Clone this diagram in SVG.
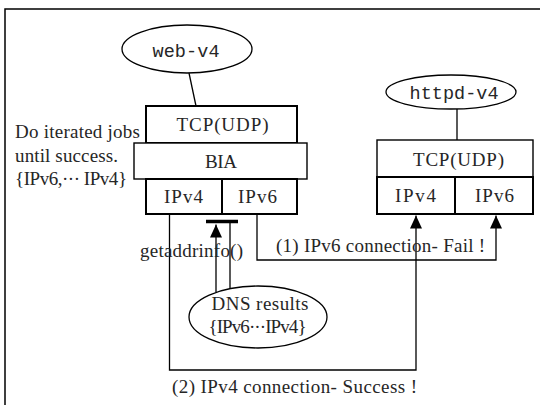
<svg xmlns="http://www.w3.org/2000/svg" width="540" height="405" viewBox="0 0 540 405">
<style>
text{font-family:"Liberation Serif","Times New Roman",serif;font-size:19px;fill:#262626}
text.m{font-family:"Liberation Mono","Courier New",monospace;font-size:18.5px}
.c{text-anchor:middle}
.box{fill:#fff;stroke:#000;stroke-width:2}
.thin{fill:#fff;stroke:#000;stroke-width:1.4}
.ln{fill:none;stroke:#000;stroke-width:1.3}
.el{fill:#fff;stroke:#000;stroke-width:1.3}
</style>
<defs>
<marker id="ah" viewBox="0 0 13 12" refX="13" refY="6" markerWidth="13" markerHeight="12" markerUnits="userSpaceOnUse" orient="auto">
<path d="M13 6 L0 0 L0 12 Z" fill="#000"/>
</marker>
</defs>
<rect width="540" height="405" fill="#fff"/>
<path d="M5 405 V9 H540" fill="none" stroke="#000" stroke-width="1.5"/>

<g id="connectors">
<line class="ln" x1="189" y1="73" x2="196" y2="106"/>
<line class="ln" x1="457" y1="109" x2="457" y2="140"/>
<path class="ln" d="M257 214 V260 H496 V215.5" marker-end="url(#ah)"/>
<path class="ln" d="M169.5 214 V370 H416 V215.5" marker-end="url(#ah)"/>
<path class="ln" d="M216 292 V224.5" marker-end="url(#ah)"/>
<line class="ln" x1="230" y1="223" x2="230" y2="289"/>
<line x1="206" y1="221.5" x2="238" y2="221.5" stroke="#000" stroke-width="3.5"/>
</g>

<g id="web-v4">
<ellipse class="el" cx="187" cy="49" rx="65" ry="24"/>
<text class="c m" x="186" y="57" textLength="67" lengthAdjust="spacing">web-v4</text>
</g>

<g id="httpd-v4">
<ellipse class="el" cx="451" cy="92" rx="65" ry="17"/>
<text class="c m" x="454" y="99" textLength="89" lengthAdjust="spacing">httpd-v4</text>
</g>

<g id="client-stack">
<rect class="box" x="146" y="106" width="151" height="37"/>
<text class="c" x="222.5" y="131" textLength="92" lengthAdjust="spacing">TCP(UDP)</text>
<rect class="thin" x="134" y="143" width="173" height="36"/>
<text class="c" x="221" y="167.5" textLength="32" lengthAdjust="spacing">BIA</text>
<rect class="box" x="146" y="179" width="151" height="35"/>
<line x1="222" y1="179" x2="222" y2="214" stroke="#000" stroke-width="2"/>
<text class="c" x="183.5" y="202.5" textLength="39" lengthAdjust="spacing">IPv4</text>
<text class="c" x="257.5" y="202.5" textLength="39" lengthAdjust="spacing">IPv6</text>
</g>

<g id="server-stack">
<rect class="thin" x="377" y="140" width="156" height="37"/>
<text class="c" x="458.5" y="166" textLength="91" lengthAdjust="spacing">TCP(UDP)</text>
<rect class="box" x="377" y="177" width="156" height="37"/>
<line x1="455" y1="177" x2="455" y2="214" stroke="#000" stroke-width="2"/>
<text class="c" x="415.5" y="201.5" textLength="41" lengthAdjust="spacing">IPv4</text>
<text class="c" x="494.5" y="201.5" textLength="39" lengthAdjust="spacing">IPv6</text>
</g>

<g id="dns-results">
<ellipse class="el" cx="258" cy="317" rx="69" ry="31"/>
<text class="c" x="260" y="310" textLength="97" lengthAdjust="spacing">DNS results</text>
<text class="c" x="257.5" y="333" textLength="98" lengthAdjust="spacing">{IPv6···IPv4}</text>
</g>

<g id="labels">
<text x="15" y="138" textLength="125" lengthAdjust="spacing">Do iterated jobs</text>
<text x="15" y="161.5" textLength="103" lengthAdjust="spacing">until success.</text>
<text x="15" y="185" textLength="112" lengthAdjust="spacing">{IPv6,··· IPv4}</text>
<text x="140" y="256.5" textLength="103" lengthAdjust="spacing">getaddrinfo()</text>
<text x="276" y="251.5" textLength="209" lengthAdjust="spacing">(1) IPv6 connection- Fail !</text>
<text x="172" y="393" textLength="245" lengthAdjust="spacing">(2) IPv4 connection- Success !</text>
</g>
</svg>
